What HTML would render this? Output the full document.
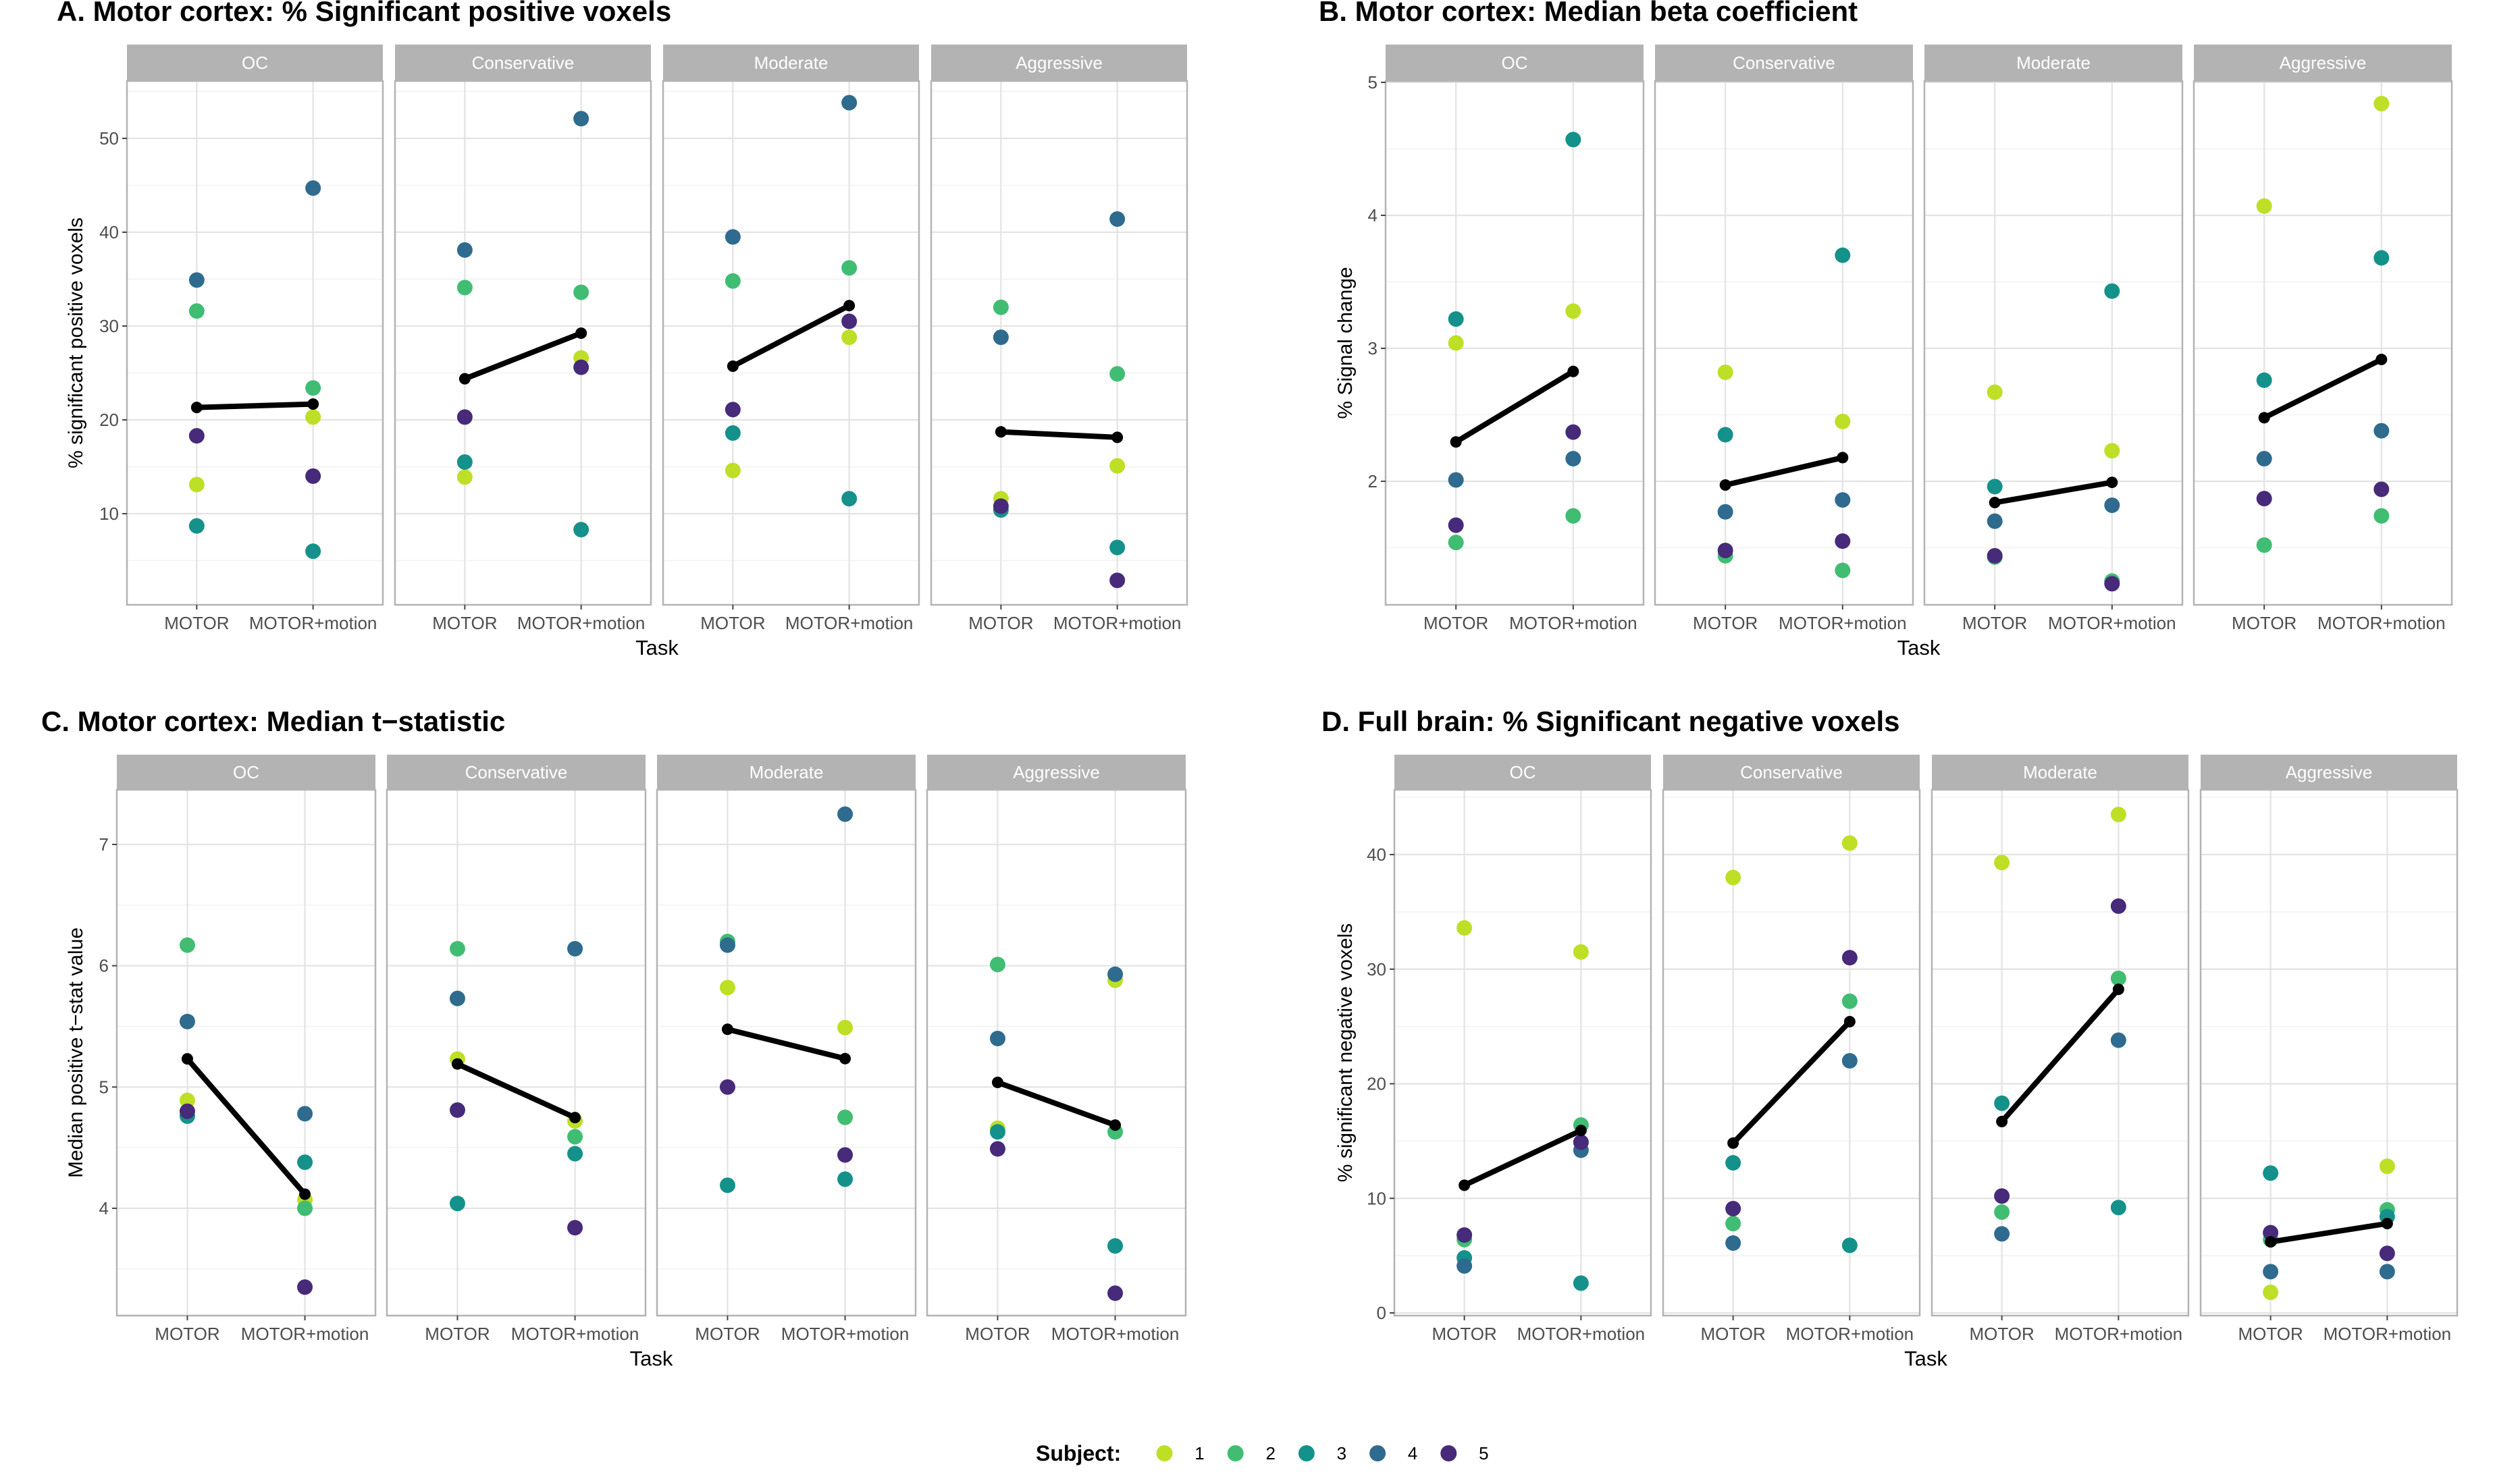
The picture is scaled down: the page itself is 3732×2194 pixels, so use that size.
<!DOCTYPE html>
<html><head><meta charset="utf-8"><style>
html,body{margin:0;padding:0;background:#fff;}
svg{display:block;font-family:"Liberation Sans",Arial,sans-serif;}
</style></head><body>
<svg id="fig" width="3732" height="2194" viewBox="0 0 3732 2194" xmlns="http://www.w3.org/2000/svg"></svg>
<script>
const facets = ["OC","Conservative","Moderate","Aggressive"];
const tasks = ["MOTOR","MOTOR+motion"];
const subjects = ["1","2","3","4","5"];
const colors = ["#bddf26","#40bd72","#15918b","#2f6b8e","#472a7a"];
// values per facet, subjects 1..5
const aMotor  = [[13.1,31.6,8.7,34.9,18.3],[13.9,34.1,15.5,38.1,20.3],[14.6,34.8,18.6,39.5,21.1],[11.6,32.0,10.4,28.8,10.8]];
const aMotion = [[20.3,23.4,6.0,44.7,14.0],[26.6,33.6,8.3,52.1,25.6],[28.8,36.2,11.6,53.8,30.5],[15.1,24.9,6.4,41.4,2.9]];
const bMotor  = [[3.04,1.54,3.22,2.01,1.67],[2.82,1.44,2.35,1.77,1.48],[2.67,1.43,1.96,1.70,1.44],[4.07,1.52,2.76,2.17,1.87]];
const bMotion = [[3.28,1.74,4.57,2.17,2.37],[2.45,1.33,3.70,1.86,1.55],[2.23,1.25,3.43,1.82,1.23],[4.84,1.74,3.68,2.38,1.94]];
const cMotor  = [[4.89,6.17,4.76,5.54,4.80],[5.23,6.14,4.04,5.73,4.81],[5.82,6.20,4.19,6.17,5.00],[4.66,6.01,4.63,5.40,4.49]];
const cMotion = [[4.07,4.00,4.38,4.78,3.35],[4.72,4.59,4.45,6.14,3.84],[5.49,4.75,4.24,7.25,4.44],[5.88,4.63,3.69,5.93,3.30]];
const dMotor  = [[33.6,6.4,4.8,4.1,6.8],[38.0,7.8,13.1,6.1,9.1],[39.3,8.8,18.3,6.9,10.2],[1.8,6.4,12.2,3.6,7.0]];
const dMotion = [[31.5,16.4,2.6,14.2,14.9],[41.0,27.2,5.9,22.0,31.0],[43.5,29.2,9.2,23.8,35.5],[12.8,9.0,8.4,3.6,5.2]];
const aTicks = [10,20,30,40,50];
const bTicks = [2,3,4,5];
const cTicks = [4,5,6,7];
const dTicks = [0,10,20,30,40];

const NS="http://www.w3.org/2000/svg";
const svg=document.getElementById('fig');
function mk(tag,attrs,parent){const e=document.createElementNS(NS,tag);for(const k in attrs)e.setAttribute(k,attrs[k]);(parent||svg).appendChild(e);return e;}
function txt(s,attrs,parent){const e=mk('text',attrs,parent);e.textContent=s;return e;}

function chart(cfg){
  const g=mk('g',{});
  
  
  const yScale=v=>cfg.y0+(v-cfg.d0)*(cfg.y1-cfg.y0)/(cfg.d1-cfg.d0);
  const t=txt(cfg.title,{x:cfg.titleX,y:cfg.titleY,'font-size':42,'font-weight':'bold',fill:'#000'},g);
  
  
  const step=cfg.ticks[1]-cfg.ticks[0];
  const minors=[];
  for(let v=cfg.ticks[0]-step/2; v<=cfg.ticks[cfg.ticks.length-1]+step/2+1e-9; v+=step){minors.push(v);}
  facets.forEach((f,fi)=>{
    const L=cfg.left+fi*(cfg.w+cfg.gap), R=L+cfg.w;
    const pg=mk('g',{},g);
    
    
    mk('rect',{x:L,y:cfg.stripBot,width:cfg.w,height:cfg.bot-cfg.stripBot,fill:'#fff'},pg);
    minors.forEach(v=>{const y=yScale(v);if(y>cfg.stripBot&&y<cfg.bot)mk('line',{x1:L,x2:R,y1:y,y2:y,stroke:'#f2f2f2','stroke-width':1.5},pg);});
    cfg.ticks.forEach(v=>{const y=yScale(v);mk('line',{x1:L,x2:R,y1:y,y2:y,stroke:'#e3e3e3','stroke-width':2.2},pg);});
    const xs=[L+cfg.w*0.6/2.2, L+cfg.w*1.6/2.2];
    xs.forEach(x=>mk('line',{x1:x,x2:x,y1:cfg.stripBot,y2:cfg.bot,stroke:'#e3e3e3','stroke-width':2.2},pg));
    mk('rect',{x:L,y:cfg.stripBot,width:cfg.w,height:cfg.bot-cfg.stripBot,fill:'none',stroke:'#b3b3b3','stroke-width':2.5},pg);
    const s=mk('rect',{x:L,y:cfg.stripTop,width:cfg.w,height:cfg.stripBot-cfg.stripTop,fill:'#b3b3b3'},pg);
    
    
    txt(f,{x:(L+R)/2,y:(cfg.stripTop+cfg.stripBot)/2+9,'text-anchor':'middle','font-size':26,fill:'#fff'},pg);
    tasks.forEach((tk,ti)=>{
      mk('line',{x1:xs[ti],x2:xs[ti],y1:cfg.bot,y2:cfg.bot+7,stroke:'#444','stroke-width':2},pg);
      const tl=txt(tk,{x:xs[ti],y:cfg.bot+36,'text-anchor':'middle','font-size':26,fill:'#4d4d4d'},pg);
      
      
    });
    const series=[cfg.motor[fi],cfg.motion[fi]];
    subjects.forEach((sj,si)=>{
      series.forEach((arr,ti)=>{
        const c=mk('circle',{cx:xs[ti],cy:yScale(arr[si]),r:11.5,fill:colors[si]},pg);
        
        
      });
    });
    const means=series.map(a=>a.reduce((p,q)=>p+q,0)/a.length);
    const ln=mk('line',{x1:xs[0],y1:yScale(means[0]),x2:xs[1],y2:yScale(means[1]),stroke:'#000','stroke-width':8},pg);
    
    
    means.forEach((m,ti)=>{
      const c=mk('circle',{cx:xs[ti],cy:yScale(m),r:8.5,fill:'#000'},pg);
      
      
    });
  });
  cfg.ticks.forEach(v=>{
    const y=yScale(v);
    mk('line',{x1:cfg.left-7,x2:cfg.left,y1:y,y2:y,stroke:'#444','stroke-width':2},g);
    const tl=txt(String(v),{x:cfg.left-12,y:y+9,'text-anchor':'end','font-size':26,fill:'#4d4d4d'},g);
    
    
  });
  const yt=txt(cfg.ytitle,{x:0,y:0,'text-anchor':'middle','font-size':30,fill:'#000',transform:`translate(${cfg.ytX},${(cfg.stripBot+cfg.bot)/2}) rotate(-90)`},g);
  
  
  const right=cfg.left+4*cfg.w+3*cfg.gap;
  const xt=txt('Task',{x:(cfg.left+right)/2,y:cfg.bot+74,'text-anchor':'middle','font-size':31,fill:'#000'},g);
  
  
}

chart({name:'chart-a',title:'A. Motor cortex: % Significant positive voxels',titleX:84,titleY:31,left:188,w:379,gap:18,stripTop:66,stripBot:120,bot:896,d0:10,d1:50,y0:761,y1:205,ticks:aTicks,motor:aMotor,motion:aMotion,ytitle:'% significant positive voxels',ytX:122});
chart({name:'chart-b',title:'B. Motor cortex: Median beta coefficient',titleX:1953,titleY:31,left:2052,w:382,gap:17,stripTop:66,stripBot:120,bot:896,d0:2,d1:5,y0:713,y1:122,ticks:bTicks,motor:bMotor,motion:bMotion,ytitle:'% Signal change',ytX:2002});
chart({name:'chart-c',title:'C. Motor cortex: Median t\u2212statistic',titleX:61,titleY:1083,left:173,w:383,gap:17,stripTop:1118,stripBot:1170,bot:1949,d0:4,d1:7,y0:1790,y1:1251,ticks:cTicks,motor:cMotor,motion:cMotion,ytitle:'Median positive t\u2212stat value',ytX:122});
chart({name:'chart-d',title:'D. Full brain: % Significant negative voxels',titleX:1957,titleY:1083,left:2065,w:380,gap:18,stripTop:1118,stripBot:1170,bot:1949,d0:0,d1:40,y0:1945,y1:1266,ticks:dTicks,motor:dMotor,motion:dMotion,ytitle:'% significant negative voxels',ytX:2002});

// legend
const lg=mk('g',{});


const lt=txt('Subject:',{x:1534,y:2164,'font-size':32,'font-weight':'bold',fill:'#000'},lg);


subjects.forEach((sj,i)=>{
  const x=1724.5+i*105.2;
  const c=mk('circle',{cx:x,cy:2153,r:12,fill:colors[i]},lg);
  
  
  txt(sj,{x:x+52,y:2162,'text-anchor':'middle','font-size':26,fill:'#000'},lg);
});
</script>
</body></html>
